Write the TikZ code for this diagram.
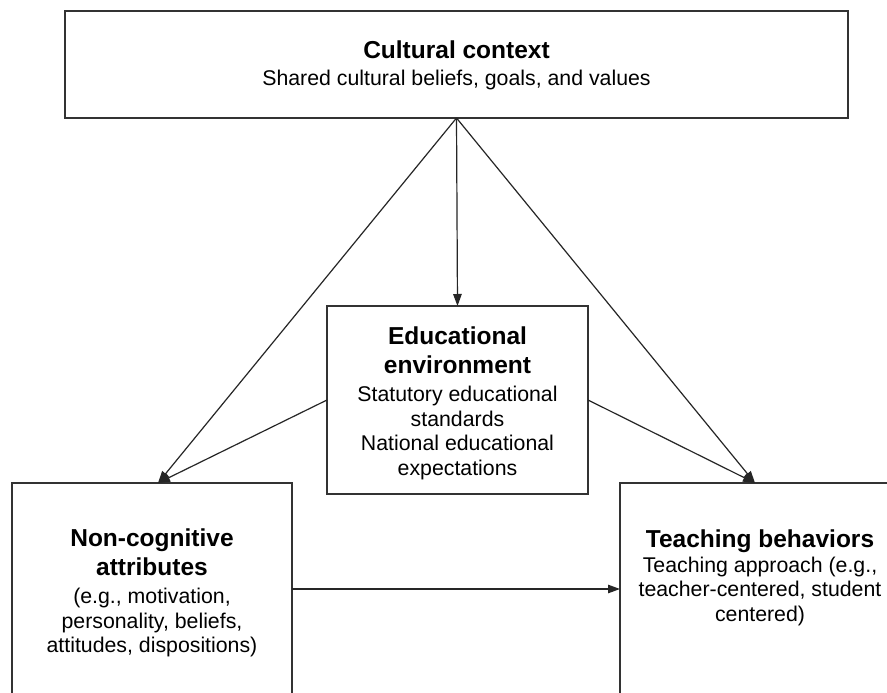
\documentclass[tikz,border=0pt]{standalone}
\usepackage{fontspec}
\setmainfont{Liberation Sans}
\usetikzlibrary{arrows.meta,calc}
\newcommand\bodyfont{\fontsize{21.3}{24.5}\selectfont}
\newcommand\ttl[1]{{\fontsize{24.5}{29}\selectfont\bfseries #1}}
\tikzset{
  box/.style={draw=black!80, line width=1.3pt, inner sep=0pt, outer sep=0pt},
  lbl/.style={align=center, inner sep=0pt, anchor=north, font=\bodyfont, text=black},
  arr/.style={draw=black!85, line width=1.2pt, -{Triangle[length=12pt,width=8.5pt]}},
}
\begin{document}
\begin{tikzpicture}[x=1pt,y=-1pt]
  \useasboundingbox (0,0) rectangle (887,693);
  \clip (0,0) rectangle (887,693);
  \fill[white] (0,0) rectangle (887,693);

  % boxes
  \node[box, minimum width=783pt, minimum height=107pt] (top) at (456.5,64.5) {};
  \node[box, minimum width=261pt, minimum height=188pt] (mid) at (457.5,400) {};
  \node[box, minimum width=280pt, minimum height=212pt] (L) at (152,589) {};
  \node[box, minimum width=278pt, minimum height=212pt] (R) at (759,589) {};

  % texts
  \node[lbl] (toptext) at (456.5,41) {\ttl{Cultural context}\\[2.5pt]Shared cultural beliefs, goals, and values};
  \node[lbl] (midtext) at (457.5,326.8) {\ttl{Educational}\\[4pt]\ttl{environment}\\[4pt]Statutory educational\\standards\\National educational\\expectations};
  \node[lbl] (Ltext) at (152,528.8) {\ttl{Non-cognitive}\\[4pt]\ttl{attributes}\\[4pt](e.g., motivation,\\personality, beliefs,\\attitudes, dispositions)};
  \node[lbl] (Rtext) at (760,529.8) {\ttl{Teaching behaviors}\\Teaching approach (e.g.,\\teacher-centered, student\\centered)};

  % arrow tips
  \coordinate (Ltip) at ([xshift=6pt]L.north);
  \coordinate (Rtip) at ([xshift=-4pt]R.north);

  % connectors
  \draw[arr] (top.south) -- (mid.north);
  \draw[arr] (top.south) -- (Ltip);
  \draw[arr] (top.south) -- (Rtip);
  \draw[arr] (mid.west) -- (Ltip);
  \draw[arr] (mid.east) -- (Rtip);
  \draw[arr] (L.east) -- (R.west);
\end{tikzpicture}
\end{document}
